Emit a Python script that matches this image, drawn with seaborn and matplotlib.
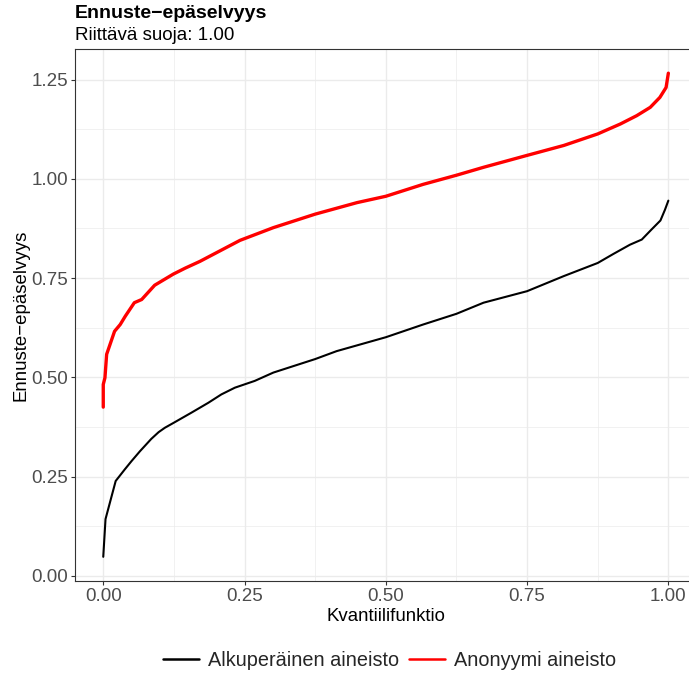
import matplotlib
matplotlib.use("Agg")
import matplotlib.pyplot as plt
import seaborn as sns
import pandas as pd
import numpy as np
from matplotlib.lines import Line2D
from matplotlib.ticker import MultipleLocator

# Data (quantile functions)
orig_q = [0, 0.004, 0.022, 0.038, 0.05, 0.065, 0.085, 0.098, 0.109, 0.124, 0.156, 0.186, 0.209,
          0.233, 0.268, 0.301, 0.375, 0.413, 0.5, 0.566, 0.625, 0.673, 0.75, 0.815, 0.875,
          0.903, 0.932, 0.953, 0.970, 0.986, 0.994, 1.0]
orig_v = [0.048, 0.143, 0.239, 0.268, 0.289, 0.314, 0.345, 0.362, 0.373, 0.385, 0.411, 0.436, 0.457,
          0.474, 0.491, 0.512, 0.546, 0.566, 0.601, 0.633, 0.660, 0.688, 0.717, 0.755, 0.788,
          0.811, 0.834, 0.847, 0.872, 0.895, 0.922, 0.945]
anon_q = [0, 0, 0.003, 0.006, 0.02, 0.03, 0.039, 0.055, 0.068, 0.091, 0.124, 0.145, 0.171,
          0.242, 0.301, 0.375, 0.449, 0.5, 0.566, 0.625, 0.673, 0.75, 0.815, 0.875, 0.915,
          0.944, 0.968, 0.985, 0.996, 1.0]
anon_v = [0.425, 0.482, 0.499, 0.558, 0.616, 0.633, 0.654, 0.688, 0.696, 0.732, 0.760, 0.775,
          0.792, 0.845, 0.877, 0.911, 0.940, 0.956, 0.986, 1.009, 1.029, 1.059, 1.084, 1.113,
          1.138, 1.159, 1.180, 1.205, 1.230, 1.266]

series_names = ["Alkuperäinen aineisto", "Anonyymi aineisto"]
series_colors = ["#000000", "#FF0000"]
x_ticks = [0.00, 0.25, 0.50, 0.75, 1.00]
y_ticks = [0.00, 0.25, 0.50, 0.75, 1.00, 1.25]
title = "Ennuste\u2212epäselvyys"
subtitle = "Riittävä suoja: 1.00"
xlabel = "Kvantiilifunktio"
ylabel = "Ennuste\u2212epäselvyys"

df_orig = pd.DataFrame({"q": orig_q, "v": orig_v, "s": series_names[0]})
df_anon = pd.DataFrame({"q": anon_q, "v": anon_v, "s": series_names[1]})

sns.set_theme(style="white")
plt.rcParams["font.family"] = ["Liberation Sans", "DejaVu Sans"]

W, H = 689, 675
fig = plt.figure(figsize=(W / 100, H / 100), dpi=100)
# panel in pixel coords: left 75, top 49, bottom 581, right ~697 (beyond figure)
left, top, bottom, right = 75, 49, 581, 696.6
ax = fig.add_axes([left / W, 1 - bottom / H, (right - left) / W, (bottom - top) / H])

sns.lineplot(data=df_orig, x="q", y="v", color=series_colors[0], lw=1.5,
             estimator=None, sort=False, ax=ax, legend=False)
sns.lineplot(data=df_anon, x="q", y="v", color=series_colors[1], lw=2.4,
             estimator=None, sort=False, ax=ax, legend=False)

allv = np.array(orig_v + anon_v)
rng = allv.max() - allv.min()
ax.set_ylim(allv.min() - 0.05 * rng, allv.max() + 0.05 * rng)
ax.set_xlim(-0.05, 1.05)

ax.set_xticks(x_ticks)
ax.set_xticklabels([f"{t:.2f}" for t in x_ticks])
ax.set_yticks(y_ticks)
ax.set_yticklabels([f"{t:.2f}" for t in y_ticks])
ax.xaxis.set_minor_locator(MultipleLocator(0.125))
ax.yaxis.set_minor_locator(MultipleLocator(0.125))
ax.grid(True, which="major", color="#ebebeb", lw=1.0)
ax.grid(True, which="minor", color="#ebebeb", lw=0.5)
ax.set_axisbelow(True)

for sp in ["top", "left", "bottom"]:
    ax.spines[sp].set_color("#333333")
    ax.spines[sp].set_linewidth(0.8)
ax.spines["right"].set_visible(False)

ax.tick_params(axis="both", which="major", length=3, width=0.8, color="#333333",
               labelsize=13.5, labelcolor="#4d4d4d", pad=2, left=True, bottom=True)
ax.tick_params(axis="both", which="minor", length=0)

ax.set_xlabel(xlabel, fontsize=13.4, color="black", labelpad=2)
ax.set_ylabel(ylabel, fontsize=13.4, color="black", labelpad=1)

fig.text(left / W, 1 - 17.5 / H, title, fontsize=14, fontweight="bold", ha="left",
         va="baseline", color="black")
fig.text(left / W, 1 - 40 / H, subtitle, fontsize=13.5, ha="left", va="baseline",
         color="black")

handles = [Line2D([0], [0], color=c, lw=1.8) for c in series_colors]
fig.legend(handles, series_names, loc="center", bbox_to_anchor=(389.5 / W, 1 - 660 / H),
           ncol=2, frameon=False, fontsize=14.3, handlelength=1.8, handletextpad=0.45,
           columnspacing=0.5)

fig.savefig("out.png", dpi=100)
